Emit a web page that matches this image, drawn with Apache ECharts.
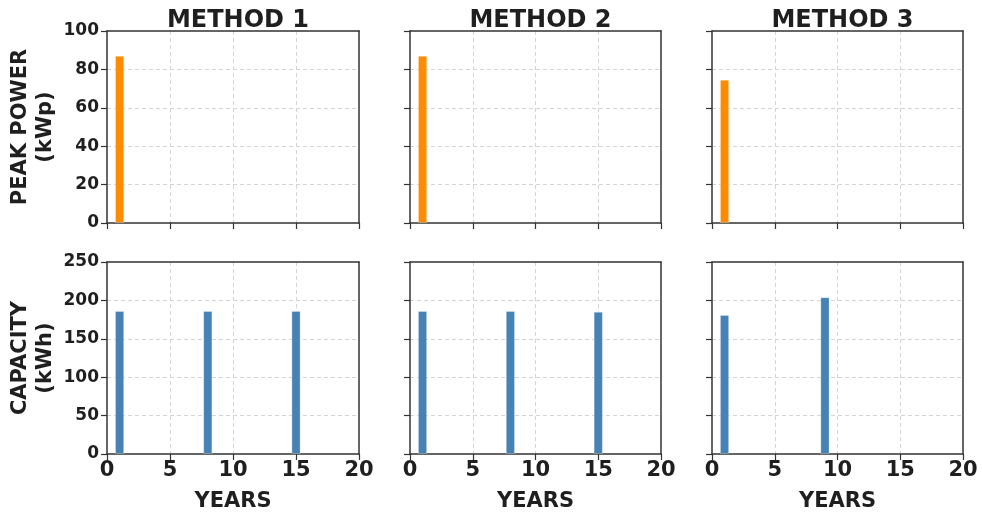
<!DOCTYPE html>
<html>
<head>
<meta charset="utf-8">
<script src="https://cdn.jsdelivr.net/npm/echarts@6/dist/echarts.min.js"></script>
<style>html,body{margin:0;padding:0;background:#fff}#c{width:982px;height:515px}</style>
</head>
<body>
<div id="c"></div>
<script>
// ---- data ----
var methods = ['METHOD 1', 'METHOD 2', 'METHOD 3'];
var powerYears = [[1], [1], [1]];
var powerValues = [[87], [87], [74.5]];
var capYears = [[1, 8, 15], [1, 8, 15], [1, 9]];
var capValues = [[186, 186, 186], [186, 186, 185], [181, 204]];
var xTicks = [0, 5, 10, 15, 20];
var powerTicks = [0, 20, 40, 60, 80, 100];
var capTicks = [0, 50, 100, 150, 200, 250];

// ---- layout ----
var FONT = 'DejaVu Sans';
var TXT = '#1f1f1f';
var colLeft = [107, 410, 712];
var colWidth = [252, 251, 251];
var rowTop = [31, 262];
var rowHeight = 192;

var grids = [], xAxes = [], yAxes = [], series = [], titles = [];
function pairs(xs, vs) { return xs.map(function (x, i) { return [x, vs[i]]; }); }
var gridLine = { show: true, showMinLine: false, showMaxLine: false, lineStyle: { color: '#d4d4d4', type: [4, 3], width: 1 } };
var spine = { show: true, onZero: false, lineStyle: { color: '#333', width: 1.5 } };

for (var r = 0; r < 2; r++) {
  for (var c = 0; c < 3; c++) {
    var idx = r * 3 + c;
    grids.push({
      left: colLeft[c], top: rowTop[r], width: colWidth[c], height: rowHeight,
      show: false
    });
    xAxes.push({
      gridIndex: idx, type: 'value', position: 'bottom', min: xTicks[0], max: xTicks[xTicks.length - 1], interval: 5,
      axisLine: spine,
      axisTick: { show: true, length: 6, lineStyle: { color: '#333', width: 1.2 } },
      axisLabel: { show: r === 1, color: TXT, fontFamily: FONT, fontWeight: 'bold', fontSize: 21, margin: 6 },
      splitLine: gridLine,
      name: r === 1 ? 'YEARS' : '', nameLocation: 'middle', nameGap: 37,
      nameTextStyle: { color: TXT, fontFamily: FONT, fontWeight: 'bold', fontSize: 21 }
    });
    var isPow = r === 0;
    var ticks = isPow ? powerTicks : capTicks;
    yAxes.push({
      gridIndex: idx, type: 'value', position: 'left', min: ticks[0], max: ticks[ticks.length - 1],
      interval: ticks[1] - ticks[0],
      axisLine: spine,
      axisTick: { show: true, length: 6, lineStyle: { color: '#333', width: 1.2 } },
      axisLabel: { show: c === 0, color: TXT, fontFamily: FONT, fontWeight: 'bold', fontSize: 17, margin: 8 },
      splitLine: gridLine,
      name: c === 0 ? (isPow ? 'PEAK POWER\n(kWp)' : 'CAPACITY\n(kWh)') : '',
      nameLocation: 'middle', nameRotate: 90, nameGap: 49,
      nameTextStyle: { color: TXT, fontFamily: FONT, fontWeight: 'bold', fontSize: 21, lineHeight: 25 }
    });
    // top and right spines (frame only)
    xAxes.push({
      gridIndex: idx, type: 'value', position: 'top', min: xTicks[0], max: xTicks[xTicks.length - 1],
      axisLine: spine, axisTick: { show: false }, axisLabel: { show: false }, splitLine: { show: false }
    });
    yAxes.push({
      gridIndex: idx, type: 'value', position: 'right', min: ticks[0], max: ticks[ticks.length - 1],
      axisLine: spine, axisTick: { show: false }, axisLabel: { show: false }, splitLine: { show: false }
    });
    series.push({
      type: 'bar', xAxisIndex: idx * 2, yAxisIndex: idx * 2, barWidth: 9,
      data: isPow ? pairs(powerYears[c], powerValues[c]) : pairs(capYears[c], capValues[c]),
      itemStyle: { color: isPow ? '#ff8c00' : '#4682b4', borderColor: 'rgba(255,255,255,0.35)', borderWidth: 0.8 },
      silent: true, animation: false
    });
    if (r === 0) {
      titles.push({
        text: methods[c], left: colLeft[c] + colWidth[c] / 2, top: 4, textAlign: 'center',
        textStyle: { color: TXT, fontFamily: FONT, fontWeight: 'bold', fontSize: 24 }
      });
    }
  }
}

var chart = echarts.init(document.getElementById('c'), null, { renderer: 'canvas' });
chart.setOption({
  backgroundColor: '#fff',
  animation: false,
  title: titles,
  grid: grids,
  xAxis: xAxes,
  yAxis: yAxes,
  series: series
});
</script>
</body>
</html>
